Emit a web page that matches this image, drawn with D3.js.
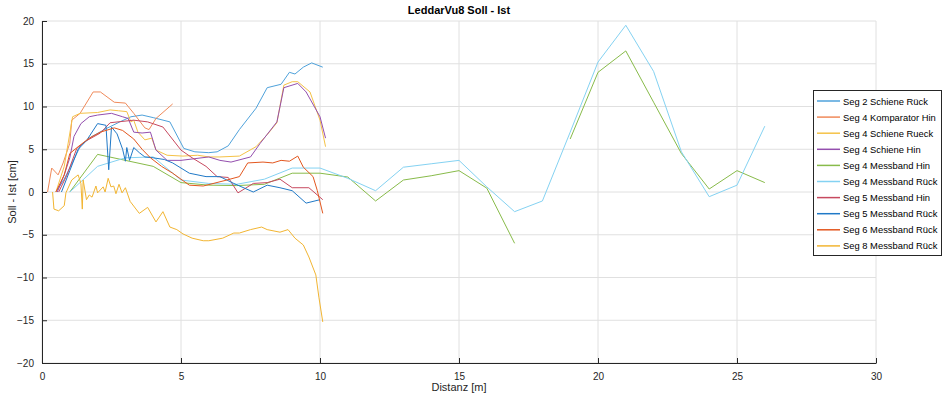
<!DOCTYPE html>
<html>
<head>
<meta charset="utf-8">
<script src="https://cdn.jsdelivr.net/npm/d3@7"></script>
<style>
  body { margin: 0; background: #fff; }
  svg { display: block; font-family: "Liberation Sans", Arial, sans-serif; }
</style>
</head>
<body>
<div id="chart"></div>
<script>
// ---- data ----
const xTicks = [0, 5, 10, 15, 20, 25, 30];
const yTicks = [-20, -15, -10, -5, 0, 5, 10, 15, 20];

const seriesNames = [
  'Seg 2 Schiene Rück',
  'Seg 4 Komparator Hin',
  'Seg 4 Schiene Rueck',
  'Seg 4 Schiene Hin',
  'Seg 4 Messband Hin',
  'Seg 4 Messband Rück',
  'Seg 5 Messband Hin',
  'Seg 5 Messband Rück',
  'Seg 6 Messband Rück',
  'Seg 8 Messband Rück',
];

const seg2SchieneRueck = [[0.5,0],[0.8,1.5],[1.1,3.5],[1.4,5.5],[1.8,6.5],[2.3,7.4],[2.8,8.2],[3.2,8.8],[3.6,9.0],[4.0,8.7],[4.6,8.2],[5.1,5.1],[5.5,4.7],[6.0,4.6],[6.3,4.7],[6.7,5.4],[7.1,7.3],[7.7,9.8],[8.1,12.2],[8.6,12.6],[8.9,14.0],[9.1,13.8],[9.4,14.6],[9.7,15.1],[10.1,14.6]];
const seg4KomparatorHin = [[0.2,0],[0.35,2.8],[0.58,2.0],[0.76,3.4],[1.0,5.7],[1.07,8.4],[1.37,9.2],[1.84,11.7],[2.1,11.7],[2.6,10.5],[3.0,10.4],[3.3,9.2],[3.7,7.5],[3.85,7.3],[4.1,8.6],[4.7,10.3]];
const seg4SchieneRueck = [[0.5,0],[0.8,3],[1.1,8.8],[1.37,9.2],[2.0,9.3],[2.45,9.6],[2.75,9.5],[3.05,9.4],[3.2,8.2],[3.3,8.4],[3.45,7.0],[3.7,6.1],[3.95,6.3],[4.1,4.9],[4.5,4.3],[5.07,4.2],[5.6,4.3],[6.0,4.1],[6.4,4.1],[7.1,4.2],[7.7,5.3],[8.1,6.7],[8.45,8.1],[8.7,12.5],[9.0,12.9],[9.2,12.9],[9.64,11.7],[10.0,8.4],[10.2,5.3]];
const seg4SchieneHin = [[0.55,0],[0.8,2],[1.0,4],[1.15,6.5],[1.4,8.0],[1.7,8.8],[2.0,9.0],[2.5,9.2],[2.9,8.8],[3.1,8.6],[3.3,7.0],[3.6,6.9],[3.9,7.0],[4.1,4.9],[4.5,3.7],[5.0,3.7],[5.5,3.9],[6.0,4.1],[6.4,3.7],[6.8,3.5],[7.5,4.1],[7.85,5.7],[8.45,8.2],[8.7,12.2],[9.2,12.7],[9.5,11.7],[10.0,8.8],[10.2,6.3]];
const seg4MessbandHin = [[1,0],[2,4.4],[3,3.7],[4,3.0],[5,1.1],[6,0.8],[7,0.75],[8,0.9],[9,2.2],[10,2.2],[11,1.75],[12,-1.05],[13,1.4],[14,1.9],[15,2.5],[16,0.45],[17,-6.0],[18,null],[19,6.2],[20,14.0],[21,16.5],[22,10.5],[23,4.5],[24,0.35],[25,2.5],[26,1.1]];
const seg4MessbandRueck = [[1,0],[2,3.0],[3,4.0],[4,4.1],[5,1.4],[6,1.0],[7,0.9],[8,1.5],[9,2.8],[10,2.8],[11,1.6],[12,0.15],[13,2.9],[14,3.3],[15,3.7],[16,0.6],[17,-2.3],[18,-1.05],[19,7.0],[20,15.2],[21,19.5],[22,14.1],[23,4.7],[24,-0.55],[25,0.8],[26,7.7]];
const seg5MessbandHin = [[0.6,0],[0.9,2],[1.25,5.1],[1.6,6.0],[2.1,6.9],[2.45,8.1],[3.3,8.4],[3.8,8.2],[4.35,7.6],[5.0,4.9],[5.4,4.0],[5.9,3.0],[6.3,1.8],[6.7,1.7],[7.05,-0.1],[7.6,1.0],[8.1,1.1],[8.56,1.5],[9.0,0.5],[9.6,0.5],[10.1,-0.9]];
const seg5MessbandRueck = [[0.7,0],[1.0,2.5],[1.3,5.0],[1.6,6.0],[2.0,8.0],[2.3,7.8],[2.4,2.6],[2.5,7.6],[2.7,6.8],[2.9,5.0],[3.0,3.6],[3.05,5.2],[3.15,3.7],[3.3,5.2],[3.5,4.6],[3.7,4.1],[4.0,4.0],[4.4,3.8],[4.7,3.4],[5.3,2.2],[5.9,1.8],[6.4,1.8],[6.9,1.0],[7.6,0.0],[8.1,0.8],[8.56,0.5],[9.0,0.15],[9.5,-1.3],[10.0,-0.9]];
const seg6MessbandRueck = [[0.5,0],[0.8,2],[1.0,4.5],[1.3,5.3],[1.7,6.3],[2.1,7.0],[2.6,7.5],[2.9,7.2],[3.3,6.2],[3.6,5.0],[3.9,4.0],[4.3,3.0],[4.7,2.2],[5.3,0.8],[5.8,0.7],[6.65,1.4],[7.1,1.8],[7.4,3.4],[7.95,3.5],[8.3,3.4],[8.6,3.7],[8.9,3.6],[9.2,4.2],[9.4,2.9],[9.75,1.8],[9.9,0.2],[10.1,-2.5]];
const seg8MessbandRueck = [[0.38,0],[0.43,-2.0],[0.6,-2.2],[0.8,-1.6],[0.86,-0.1],[1.07,1.4],[1.3,2.0],[1.4,1.0],[1.45,-2.0],[1.48,1.4],[1.6,-0.9],[1.7,-0.35],[1.8,-0.6],[1.94,0.7],[2.0,-0.1],[2.2,0.6],[2.27,0],[2.38,1.6],[2.48,0.6],[2.58,0.7],[2.66,-0.2],[2.77,0.9],[2.88,-0.1],[3.0,0.5],[3.17,-1.1],[3.5,-2.5],[3.8,-1.8],[4.1,-3.5],[4.35,-2.3],[4.6,-4.1],[4.85,-4.4],[5.07,-4.9],[5.4,-5.4],[5.8,-5.7],[6.0,-5.7],[6.5,-5.4],[6.9,-4.8],[7.1,-4.8],[7.5,-4.4],[7.9,-4.1],[8.1,-4.4],[8.56,-4.7],[8.85,-4.4],[9.1,-5.4],[9.4,-6.2],[9.6,-7.6],[9.85,-9.7],[9.96,-12.3],[10.1,-15.2]];

const seriesValues = [seg2SchieneRueck, seg4KomparatorHin, seg4SchieneRueck, seg4SchieneHin,
  seg4MessbandHin, seg4MessbandRueck, seg5MessbandHin, seg5MessbandRueck, seg6MessbandRueck, seg8MessbandRueck];

// ---- style ----
const colors = ['#4fa2db', '#f08a5a', '#f5c247', '#944fae', '#88bb4a', '#84d2f2', '#c7495f', '#2079c7', '#e3571f', '#f2b532'];

const width = 944, height = 401;
const margin = { left: 42, right: 68, top: 21, bottom: 38 };

const svg = d3.select('#chart').append('svg')
  .attr('width', width)
  .attr('height', height);

const x = d3.scaleLinear().domain([0, 30]).range([margin.left, width - margin.right]);
const y = d3.scaleLinear().domain([-20, 20]).range([height - margin.bottom, margin.top]);

// grid
svg.append('g').selectAll('line').data(xTicks).enter().append('line')
  .attr('x1', d => x(d)).attr('x2', d => x(d))
  .attr('y1', y(-20)).attr('y2', y(20))
  .attr('stroke', '#e0e0e0').attr('stroke-width', 1);
svg.append('g').selectAll('line').data(yTicks).enter().append('line')
  .attr('x1', x(0)).attr('x2', x(30))
  .attr('y1', d => y(d)).attr('y2', d => y(d))
  .attr('stroke', '#e0e0e0').attr('stroke-width', 1);

// lines
const line = d3.line()
  .defined(d => d[1] !== null)
  .x(d => x(d[0]))
  .y(d => y(d[1]));

svg.append('g').selectAll('path').data(seriesValues).enter().append('path')
  .attr('d', d => line(d))
  .attr('fill', 'none')
  .attr('stroke', (d, i) => colors[i])
  .attr('stroke-width', 1)
  .attr('stroke-linejoin', 'round');

// axes (ticks inward like matlab)
const xAxis = svg.append('g')
  .attr('transform', `translate(0,${y(-20)})`)
  .call(d3.axisBottom(x).tickValues(xTicks).tickSizeInner(-5).tickSizeOuter(0).tickPadding(10));
const yAxis = svg.append('g')
  .attr('transform', `translate(${x(0)},0)`)
  .call(d3.axisLeft(y).tickValues(yTicks).tickSizeInner(-5).tickSizeOuter(0).tickPadding(8));

[xAxis, yAxis].forEach(a => {
  a.select('.domain').attr('stroke', '#262626');
  a.selectAll('.tick line').attr('stroke', '#262626');
  a.selectAll('.tick text').attr('fill', '#262626').style('font-size', '10px')
    .style('font-family', '"Liberation Sans", Arial, sans-serif');
});

// title and labels
svg.append('text')
  .attr('x', x(15)).attr('y', 14)
  .attr('text-anchor', 'middle')
  .attr('font-size', 11).attr('font-weight', 'bold')
  .attr('fill', '#000')
  .text('LeddarVu8 Soll - Ist');

svg.append('text')
  .attr('x', x(15)).attr('y', 391)
  .attr('text-anchor', 'middle')
  .attr('font-size', 11).attr('fill', '#262626')
  .text('Distanz [m]');

svg.append('text')
  .attr('transform', `translate(16,${y(0)}) rotate(-90)`)
  .attr('text-anchor', 'middle')
  .attr('font-size', 11).attr('fill', '#262626')
  .text('Soll - Ist [cm]');

// legend
const legend = svg.append('g').attr('transform', 'translate(813,90)');
legend.append('rect')
  .attr('x', 0.5).attr('y', 0.5)
  .attr('width', 128).attr('height', 165)
  .attr('fill', '#fff').attr('stroke', '#262626').attr('stroke-width', 1);

const item = legend.selectAll('.item').data(seriesNames).enter().append('g')
  .attr('class', 'item')
  .attr('transform', (d, i) => `translate(0,${11 + i * 16.1})`);
item.append('line')
  .attr('x1', 4).attr('x2', 27)
  .attr('stroke', (d, i) => colors[i]).attr('stroke-width', 1.5);
item.append('text')
  .attr('x', 30).attr('y', 3.5)
  .attr('font-size', 9.4).attr('fill', '#000')
  .text(d => d);
</script>
</body>
</html>
